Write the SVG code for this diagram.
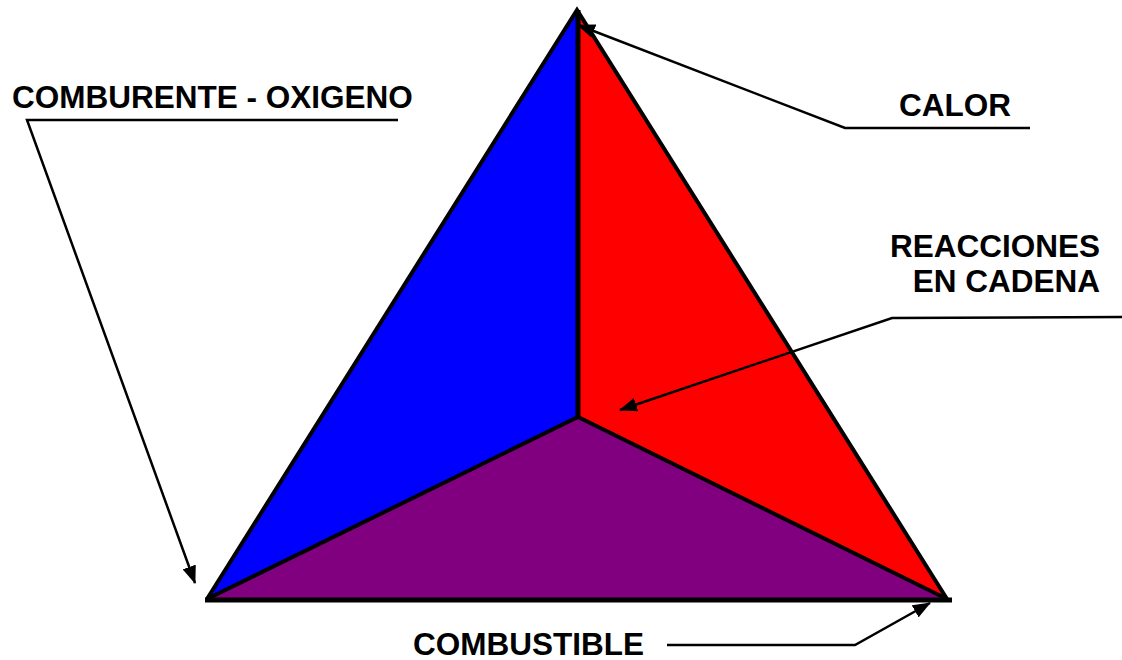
<svg xmlns="http://www.w3.org/2000/svg" width="1122" height="660" viewBox="0 0 1122 660">
<style>
.lbl{font-family:"Liberation Sans",Arial,sans-serif;font-weight:bold;font-size:31.5px;fill:#000}
.edge{stroke:#000;stroke-width:4;fill:none;stroke-linejoin:miter}
.lead{stroke:#000;stroke-width:2.5;fill:none}
</style>
<defs>
<marker id="ahb" markerWidth="18" markerHeight="14" refX="17" refY="7" orient="auto" markerUnits="userSpaceOnUse" viewBox="0 0 18 14">
<path d="M0,0 L18,7 L0,14 z" fill="#000"/>
</marker>
</defs>
<rect width="1122" height="660" fill="#fff"/>
<g id="face-oxigeno">
<polygon points="577,12 207,599 578,417" fill="#0000FF"/>
</g>
<g id="face-calor">
<polygon points="577,12 578,417 947,599" fill="#FF0000"/>
</g>
<g id="face-combustible">
<polygon points="207,599 578,417 947,599" fill="#800080"/>
</g>
<g id="edges">
<polyline class="edge" points="207,599 577,10 947,599"/>
<polyline class="edge" points="207,599 578,417 947,599"/>
<line x1="578" y1="10" x2="578" y2="417" stroke="#000" stroke-width="5"/>
<line x1="205" y1="600" x2="952" y2="600" stroke="#000" stroke-width="5"/>
</g>
<g id="label-comburente">
<text class="lbl" x="12" y="108">COMBURENTE - OXIGENO</text>
</g>
<g id="label-calor">
<text class="lbl" x="899" y="116">CALOR</text>
</g>
<g id="label-reacciones">
<text class="lbl" x="1100" y="257" text-anchor="end">REACCIONES</text>
<text class="lbl" x="1100" y="292" text-anchor="end">EN CADENA</text>
</g>
<g id="label-combustible">
<text class="lbl" x="413" y="655">COMBUSTIBLE</text>
</g>
<g id="connectors">
<polyline class="lead" points="398,120 27,120 195,583" marker-end="url(#ahb)"/>
<polyline class="lead" points="1030,128 845,128 578,25" marker-end="url(#ahb)"/>
<polyline class="lead" points="1122,317 892,318 620,410" marker-end="url(#ahb)"/>
<polyline class="lead" points="667,645 855,645 930,603" marker-end="url(#ahb)"/>
</g>
</svg>
